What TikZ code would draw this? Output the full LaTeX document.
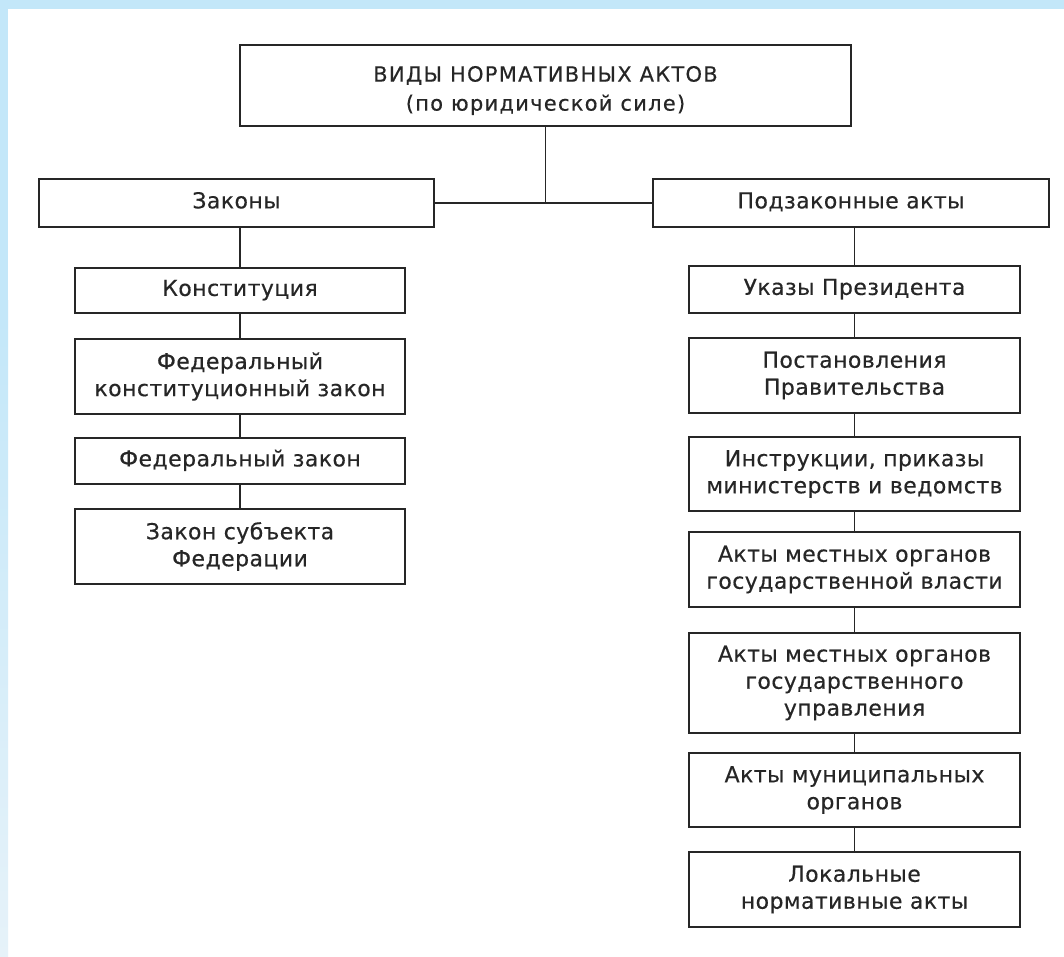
\documentclass[tikz,border=0pt]{standalone}
\usepackage{fontspec}
\setmainfont[LetterSpace=2, FakeBold=0.4]{DejaVu Sans}
\usetikzlibrary{positioning}
\definecolor{bandblue}{HTML}{C3E7F9}
\definecolor{bandpale}{HTML}{E6F2F9}
\definecolor{ink}{HTML}{262626}
\tikzset{
  box/.style={draw=ink, line width=1.6pt, fill=white, align=center, text=ink,
    inner sep=0pt, font=\fontsize{22}{27}\selectfont},
  topbox/.style={box, line width=2.8pt},
  link/.style={draw=ink, line width=1.3pt}
}
\begin{document}
\begin{tikzpicture}[x=1pt,y=-1pt]
\useasboundingbox (0,0) rectangle (1064,956);
\fill[white] (0,0) rectangle (1064,956);
\shade[top color=bandblue, bottom color=bandpale] (0,300) rectangle (8,956);
\fill[bandblue] (0,0) rectangle (8,300);
\fill[bandblue] (0,0) rectangle (1064,9);

\node[topbox, minimum width=611pt, minimum height=81pt,
  label={[font=\fontsize{21}{29}\selectfont\addfontfeature{LetterSpace=6}, text=ink, align=center, yshift=-5pt]center:ВИДЫ НОРМАТИВНЫХ АКТОВ\\(по юридической силе)}] (top) at (545.5,85.5) {};

\node[box, minimum width=395pt, minimum height=48pt] (zak) at (236.5,203)
  {\strut Законы};
\node[box, minimum width=396pt, minimum height=48pt] (pod) at (851,203)
  {\strut Подзаконные акты};

\node[box, minimum width=330pt, minimum height=45pt] (konst) at (240,290.5) {\strut Конституция};
\node[box, minimum width=330pt, minimum height=75pt] (fkz) at (240,376.5) {Федеральный\\конституционный закон};
\node[box, minimum width=330pt, minimum height=46pt] (fz) at (240,461) {\strut Федеральный закон};
\node[box, minimum width=330pt, minimum height=75pt] (zsf) at (240,546.5) {Закон субъекта\\Федерации};

\node[box, minimum width=331pt, minimum height=47pt] (ukaz) at (854.5,289.5) {\strut Указы Президента};
\node[box, minimum width=331pt, minimum height=75pt] (post) at (854.5,375.5) {Постановления\\Правительства};
\node[box, minimum width=331pt, minimum height=74pt] (instr) at (854.5,474) {Инструкции, приказы\\министерств и ведомств};
\node[box, minimum width=331pt, minimum height=75pt] (amogv) at (854.5,569.5) {Акты местных органов\\государственной власти};
\node[box, minimum width=331pt, minimum height=100pt] (amogu) at (854.5,683) {Акты местных органов\\государственного\\управления};
\node[box, minimum width=331pt, minimum height=74pt] (amo) at (854.5,790) {Акты муниципальных\\органов};
\node[box, minimum width=331pt, minimum height=75pt] (lok) at (854.5,889.5) {Локальные\\нормативные акты};

\coordinate (j) at (top.south |- zak.east);
\draw[link] (top.south) -- (j);
\draw[link] (zak.east) -- (pod.west);

\draw[link] (konst.north |- zak.south) -- (konst.north);
\draw[link] (konst) -- (fkz);
\draw[link] (fkz) -- (fz);
\draw[link] (fz) -- (zsf);

\draw[link] (ukaz.north |- pod.south) -- (ukaz.north);
\draw[link] (ukaz) -- (post);
\draw[link] (post) -- (instr);
\draw[link] (instr) -- (amogv);
\draw[link] (amogv) -- (amogu);
\draw[link] (amogu) -- (amo);
\draw[link] (amo) -- (lok);
\end{tikzpicture}
\end{document}
